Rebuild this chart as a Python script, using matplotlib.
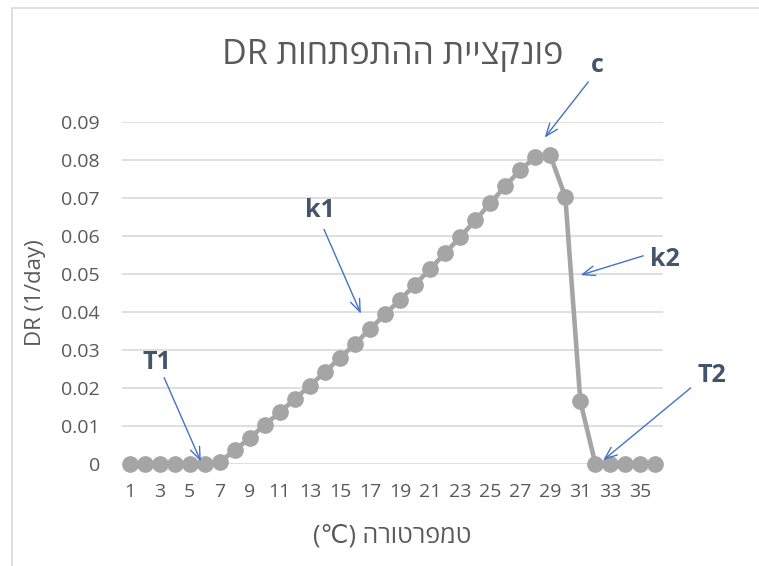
import matplotlib
matplotlib.use("Agg")
from matplotlib import pyplot as plt
from matplotlib.patches import Rectangle

# temperature categories and development rate values
temps = list(range(1, 37))
dr = [0, 0, 0, 0, 0, 0, 0.0005, 0.0036, 0.0069, 0.0103, 0.0136, 0.0171,
      0.0206, 0.0242, 0.0279, 0.0316, 0.0355, 0.0394, 0.0432, 0.0472,
      0.0513, 0.0555, 0.0597, 0.0641, 0.0686, 0.0731, 0.0774, 0.0807,
      0.0812, 0.0703, 0.0165, 0, 0, 0, 0, 0]
yticks = [0, 0.01, 0.02, 0.03, 0.04, 0.05, 0.06, 0.07, 0.08, 0.09]
ytick_labels = ["0", "0.01", "0.02", "0.03", "0.04", "0.05", "0.06", "0.07", "0.08", "0.09"]
xticks = temps[::2]

# hebrew strings (matplotlib has no bidi, so hebrew part is put in visual order)
title_heb = "פונקציית ההתפתחות"
xlabel_heb = "טמפרטורה"
title_txt = "DR " + title_heb[::-1]
xlabel_txt = "(℃) " + xlabel_heb[::-1]

# labelled points: (label, arrow tip, arrow tail, text pos) in data units
notes = [
    ("c", (28.51, 0.0853), (31.64, 0.1011), (32.1, 0.1050)),
    ("k1", (16.47, 0.0389), (13.87, 0.0624), (13.67, 0.0668)),
    ("T1", (5.82, 0.0), (3.23, 0.0234), (2.83, 0.0268)),
    ("k2", (30.84, 0.0495), (35.36, 0.0550), (36.63, 0.0537)),
    ("T2", (32.37, 0.0005), (38.49, 0.0205), (39.76, 0.0234)),
]

fam = ["Open Sans", "DejaVu Sans"]
plt.rcParams['font.family'] = fam
txt_col = "#595959"

fig = plt.figure(figsize=(7.59, 5.66), dpi=100)
ax = fig.add_axes([122/759, 102/566, 541/759, 342/566])

# chart area border (left/top visible)
fig.patches.append(Rectangle((12/759, -0.05), 1.2, (558+28)/566, transform=fig.transFigure,
                             fill=False, edgecolor="#D9D9D9", linewidth=1.2))

ax.plot(temps, dr, color="#A5A5A5", linewidth=3.3, marker="o", markersize=11,
        zorder=3, clip_on=False)

ax.set_xlim(0.5, 36.5)
ax.set_ylim(0, 0.09)
ax.set_yticks(yticks)
ax.set_yticklabels(ytick_labels)
ax.set_xticks(xticks)
ax.set_xticklabels([str(t) for t in xticks])
ax.yaxis.grid(True, color="#D9D9D9", linewidth=1.2)
ax.set_axisbelow(True)
for s in ax.spines.values():
    s.set_visible(False)
ax.tick_params(axis="both", length=0, labelsize=14, labelcolor=txt_col)
ax.tick_params(axis="y", pad=16)
ax.tick_params(axis="x", pad=14)

ax.set_title(title_txt, fontsize=24.5, color=txt_col, pad=42)
ax.set_xlabel(xlabel_txt, fontsize=18, color=txt_col, labelpad=16)
ax.set_ylabel("DR (1/day)", fontsize=16, color=txt_col, labelpad=11)

for label, tip, tail, pos in notes:
    ax.annotate("", xy=tip, xytext=tail, annotation_clip=False,
                arrowprops=dict(arrowstyle="->,head_length=0.9,head_width=0.35",
                                color="#4472C4", linewidth=1.0))
    ax.text(pos[0], pos[1], label, fontsize=18, fontweight="bold", color="#44546A",
            ha="center", va="center", clip_on=False)

fig.savefig("out.png", dpi=100)
